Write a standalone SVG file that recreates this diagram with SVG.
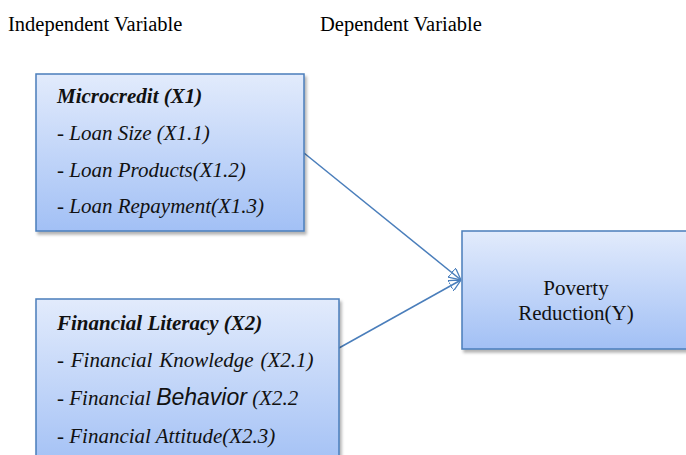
<svg xmlns="http://www.w3.org/2000/svg" width="686" height="455" viewBox="0 0 686 455">
<style>
.hd{font-family:"Liberation Serif","Times New Roman",serif;font-size:20.5px;fill:#000}
.t{font-family:"Liberation Serif","Times New Roman",serif;font-size:21px;font-style:italic;fill:#111}
.b{font-weight:bold}
.c{font-family:"Liberation Serif","Times New Roman",serif;font-size:21px;fill:#111}
.box{fill:url(#g);stroke:#4a7ebb;stroke-width:1.5;filter:url(#sh)}
.ln{stroke:#4a7ebb;stroke-width:1.5;fill:none;marker-end:url(#ar)}
</style>
<defs>
<linearGradient id="g" x1="0" y1="0" x2="0" y2="1">
<stop offset="0" stop-color="#e2ebfc"/>
<stop offset="1" stop-color="#a2c0f5"/>
</linearGradient>
<filter id="sh" x="-5%" y="-5%" width="115%" height="120%">
<feDropShadow dx="2" dy="3" stdDeviation="1.5" flood-color="#000" flood-opacity="0.3"/>
</filter>
<marker id="ar" viewBox="0 0 12 12" refX="12" refY="6" markerWidth="12" markerHeight="12" markerUnits="userSpaceOnUse" orient="auto">
<path d="M0,0 L12,6 L0,12 Z" fill="none" stroke="#4a7ebb" stroke-width="1.3"/>
</marker>
</defs>
<text class="hd" x="8" y="31">Independent Variable</text>
<text class="hd" x="320" y="31">Dependent Variable</text>
<g id="connectors">
<line class="ln" x1="304" y1="153" x2="461" y2="280"/>
<line class="ln" x1="339" y1="348" x2="461" y2="280"/>
</g>
<g id="microcredit">
<rect class="box" x="36" y="74" width="268" height="157"/>
<text class="t b" x="57" y="103">Microcredit (X1)</text>
<text class="t" x="57" y="140">- Loan Size (X1.1)</text>
<text class="t" x="57" y="177">- Loan Products(X1.2)</text>
<text class="t" x="57" y="213">- Loan Repayment(X1.3)</text>
</g>
<g id="financial-literacy">
<rect class="box" x="36" y="299" width="303" height="170"/>
<text class="t b" x="57" y="330">Financial Literacy (X2)</text>
<text class="t" x="57" y="367" word-spacing="1.5">- Financial Knowledge (X2.1)</text>
<text class="t" x="57" y="405">- Financial <tspan style="font-family:'Liberation Sans',Arial,sans-serif;font-size:23px;font-style:italic">Behavior</tspan> (X2.2</text>
<text class="t" x="57" y="443">- Financial Attitude(X2.3)</text>
</g>
<g id="poverty-reduction">
<rect class="box" x="462" y="231" width="240" height="118"/>
<text class="c" x="576" y="295" text-anchor="middle">Poverty</text>
<text class="c" x="576" y="320" text-anchor="middle">Reduction(Y)</text>
</g>
</svg>
